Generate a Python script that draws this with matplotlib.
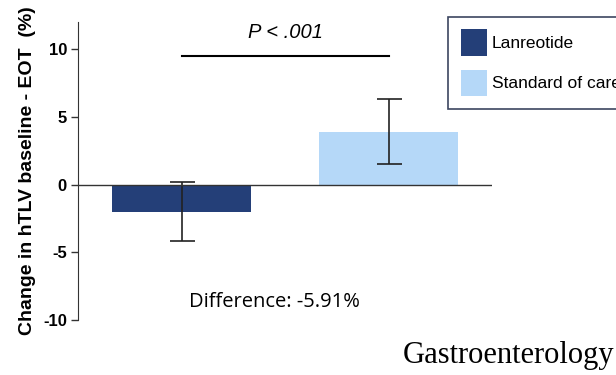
import matplotlib
matplotlib.use("Agg")
import matplotlib.pyplot as plt
from matplotlib.patches import Patch

# data
groups = ["Lanreotide", "Standard of care"]
means = [-2.0, 3.91]
errors = [2.2, 2.37]
colors = ["#243f78", "#b5d8f8"]
p_text = "P < .001"
p_level = 9.5
diff_text = "Difference: -5.91%"

plt.rcParams['font.family'] = ['Liberation Sans', 'DejaVu Sans']
plt.rcParams['axes.unicode_minus'] = False

fig = plt.figure(figsize=(6.16, 3.75), dpi=100)
ax = fig.add_axes([78 / 616, 1 - 320 / 375, (492 - 78) / 616, (320 - 22) / 375])

x = list(range(len(groups)))
ax.bar(x, means, width=0.667, color=colors, zorder=2)
ax.errorbar(x, means, yerr=errors, fmt='none', ecolor='#222222',
            elinewidth=1.2, capsize=9, capthick=1.2, zorder=3)
ax.axhline(0, color='#333333', linewidth=1.0, zorder=4)

# significance bar
ax.plot([x[0], x[1]], [p_level, p_level], color='black', linewidth=1.5)
ax.text((x[0] + x[1]) / 2, p_level + 1.0, p_text, ha='center', va='bottom',
        fontsize=14.5, style='italic')

ax.text(0.45, -8.7, diff_text, ha='center', va='center', fontsize=14.5,
        family=['Open Sans', 'DejaVu Sans'])

ax.set_xlim(-0.5, 1.5)
ax.set_ylim(-10, 12)
ax.set_yticks([-10, -5, 0, 5, 10])
ax.set_xticks([])
for s in ['top', 'right', 'bottom']:
    ax.spines[s].set_visible(False)
ax.spines['left'].set_color('#333333')
ax.spines['left'].set_bounds(-10, 12)
ax.tick_params(axis='y', length=5, width=1, color='#333333', labelsize=12, pad=3)
for lab in ax.get_yticklabels():
    lab.set_fontweight('bold')
ax.set_ylabel("Change in hTLV baseline - EOT  (%)", fontsize=14,
              fontweight='bold', labelpad=5)

# legend box runs off the right edge, as in the source figure
handles = [Patch(facecolor=c, edgecolor='none') for c in colors]
leg = fig.legend(handles, groups, loc='upper left',
                 bbox_to_anchor=(448 / 616, 1 - 17 / 375), fontsize=12.5,
                 handlelength=1.55, handleheight=2.0, handletextpad=0.25,
                 labelspacing=0.76, borderpad=0.72, borderaxespad=0,
                 fancybox=False, framealpha=1)
leg.get_frame().set_edgecolor('#3c4660')
leg.get_frame().set_linewidth(1.2)

fig.text(403 / 616, 1 - 356 / 375, "Gastroenterology", ha='left', va='center',
         fontsize=22, family=['Liberation Serif', 'DejaVu Serif'])

fig.savefig("out.png", dpi=100)
